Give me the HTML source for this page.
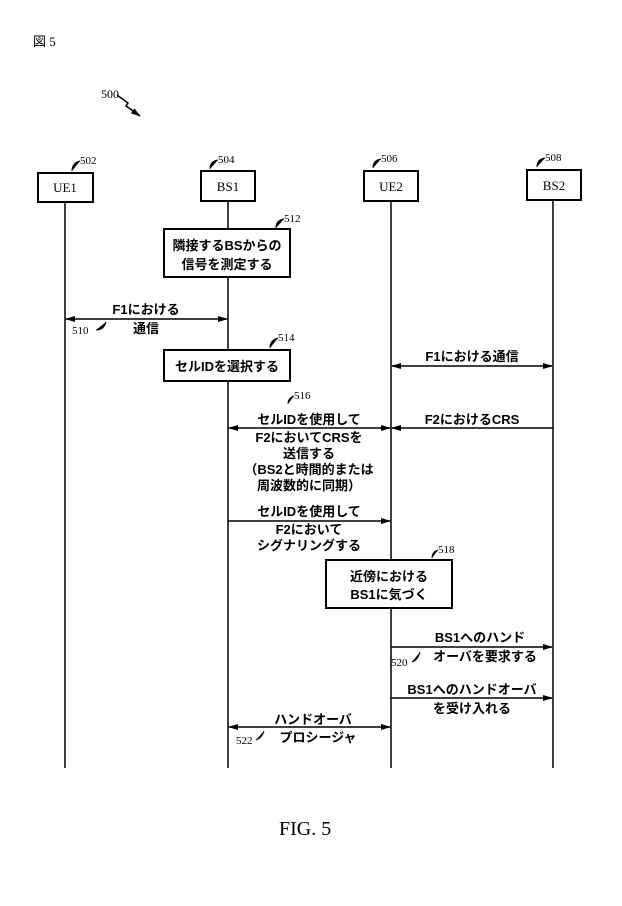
<!DOCTYPE html>
<html><head><meta charset="utf-8"><style>
html,body{margin:0;padding:0;background:#fff;width:622px;height:906px;overflow:hidden}
svg{display:block}
.j{font-family:"Liberation Sans","Noto Sans CJK JP",sans-serif;font-size:13px;fill:#000;font-weight:bold}
.s{font-family:"Liberation Serif",serif;fill:#000}
</style></head><body>
<svg width="622" height="906" viewBox="0 0 622 906" xmlns="http://www.w3.org/2000/svg">
<defs>
<marker id="a" markerWidth="10" markerHeight="8" refX="9" refY="4" orient="auto-start-reverse" markerUnits="userSpaceOnUse">
<path d="M0,1 L10,4 L0,7 Z" fill="#000"/></marker>
</defs>
<text x="33" y="46" class="s" font-size="13" font-family="Liberation Serif,Noto Serif CJK SC,serif">図 5</text>
<text x="101" y="98" class="s" font-size="12">500</text>
<path d="M117,95 L128,103 L126,106 L140,116" stroke="#000" stroke-width="1.5" fill="none" marker-end="url(#a)"/>

<g stroke="#000" stroke-width="1.5" fill="none">
<line x1="65" y1="202" x2="65" y2="768"/>
<line x1="228" y1="201" x2="228" y2="768"/>
<line x1="391" y1="201" x2="391" y2="768"/>
<line x1="553" y1="200" x2="553" y2="768"/>
</g>
<g stroke="#000" stroke-width="2" fill="#fff">
<rect x="38" y="173" width="55" height="29"/>
<rect x="201" y="171" width="54" height="30"/>
<rect x="364" y="171" width="54" height="30"/>
<rect x="527" y="170" width="54" height="30"/>
<rect x="164" y="229" width="126" height="48"/>
<rect x="164" y="350" width="126" height="31"/>
<rect x="326" y="560" width="126" height="48"/>
</g>
<g class="s" font-size="13" text-anchor="middle">
<text x="65" y="192">UE1</text><text x="228" y="191">BS1</text>
<text x="391" y="191">UE2</text><text x="554" y="190">BS2</text>
</g>
<g class="s" font-size="11" stroke="#000" fill="none" stroke-width="1">
<path d="M72,171 Q72,163 80,161"/><path d="M210,169 Q210,161 218,160"/>
<path d="M373,168 Q373,160 381,159"/><path d="M537,167 Q537,159 545,158"/>
<path d="M276,228 Q276,220 284,219"/><path d="M270,348 Q270,340 278,338"/>
<path d="M288,404 Q288,398 294,396"/><path d="M432,558 Q432,552 438,550"/>
<path d="M96,330 Q104,330 106,322"/><path d="M412,662 Q418,660 420,652"/><path d="M256,740 Q262,738 264,731"/>
</g>
<g class="s" font-size="11">
<text x="80" y="164">502</text><text x="218" y="163">504</text>
<text x="381" y="162">506</text><text x="545" y="161">508</text>
<text x="284" y="222">512</text><text x="278" y="341">514</text>
<text x="294" y="399">516</text><text x="438" y="553">518</text>
<text x="72" y="334">510</text><text x="391" y="666">520</text><text x="236" y="744">522</text>
</g>
<g class="j" text-anchor="middle">
<text x="227" y="250">隣接するBSからの</text><text x="227" y="269">信号を測定する</text>
<text x="227" y="371">セルIDを選択する</text>
<text x="389" y="581">近傍における</text><text x="389" y="599">BS1に気づく</text>
<text x="146" y="314">F1における</text><text x="146" y="333">通信</text>
<text x="472" y="361">F1における通信</text>
<text x="309" y="424">セルIDを使用して</text>
<text x="309" y="442">F2においてCRSを</text>
<text x="309" y="458">送信する</text>
<text x="309" y="474">（BS2と時間的または</text>
<text x="309" y="490">周波数的に同期）</text>
<text x="472" y="424">F2におけるCRS</text>
<text x="309" y="516">セルIDを使用して</text>
<text x="309" y="534">F2において</text>
<text x="309" y="550">シグナリングする</text>
<text x="480" y="642">BS1へのハンド</text>
<text x="485" y="661">オーバを要求する</text>
<text x="472" y="694">BS1へのハンドオーバ</text>
<text x="472" y="713">を受け入れる</text>
<text x="313" y="724">ハンドオーバ</text>
<text x="318" y="742">プロシージャ</text>
</g>
<g stroke="#000" stroke-width="1.5" fill="none">
<line x1="66" y1="319" x2="227" y2="319" marker-start="url(#a)" marker-end="url(#a)"/>
<line x1="392" y1="366" x2="552" y2="366" marker-start="url(#a)" marker-end="url(#a)"/>
<line x1="229" y1="428" x2="390" y2="428" marker-start="url(#a)" marker-end="url(#a)"/>
<line x1="553" y1="428" x2="392" y2="428" marker-end="url(#a)"/>
<line x1="228" y1="521" x2="390" y2="521" marker-end="url(#a)"/>
<line x1="391" y1="647" x2="552" y2="647" marker-end="url(#a)"/>
<line x1="391" y1="698" x2="552" y2="698" marker-end="url(#a)"/>
<line x1="229" y1="727" x2="390" y2="727" marker-start="url(#a)" marker-end="url(#a)"/>
</g>
<text x="279" y="835" class="s" font-size="20">FIG. 5</text>
</svg>
</body></html>
